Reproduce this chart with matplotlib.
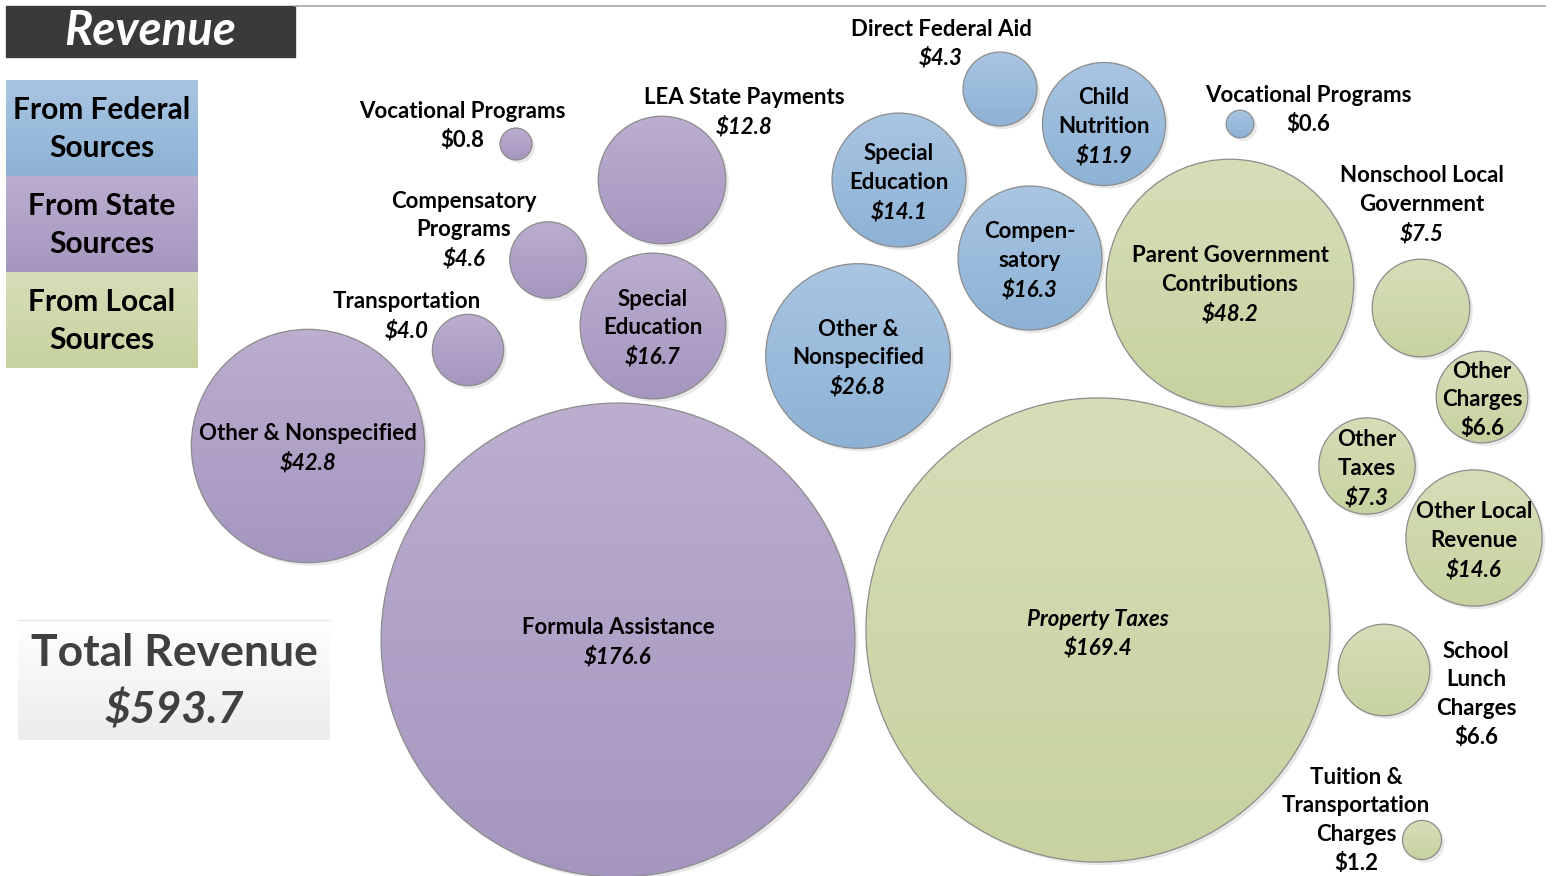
import numpy as np
import matplotlib
matplotlib.use('Agg')
from matplotlib import pyplot as plt
from matplotlib.patches import Circle, Rectangle
import matplotlib.colors as mcolors

plt.rcParams['font.family'] = ['Lato', 'DejaVu Sans']

# revenue items (millions)
names = ['Direct Federal Aid', 'Vocational Programs', 'LEA State Payments',
         'Compensatory\nPrograms', 'Transportation', 'Other & Nonspecified',
         'Special\nEducation', 'Formula Assistance', 'Special\nEducation',
         'Child\nNutrition', 'Vocational Programs', 'Compen-\nsatory',
         'Other &\nNonspecified', 'Parent Government\nContributions',
         'Nonschool Local\nGovernment', 'Other\nCharges', 'Other\nTaxes',
         'Other Local\nRevenue', 'Property Taxes', 'School\nLunch\nCharges',
         'Tuition &\nTransportation\nCharges']
values = [4.3, 0.8, 12.8, 4.6, 4.0, 42.8, 16.7, 176.6, 14.1, 11.9, 0.6, 16.3,
          26.8, 48.2, 7.5, 6.6, 7.3, 14.6, 169.4, 6.6, 1.2]
source = ['fed', 'state', 'state', 'state', 'state', 'state', 'state', 'state',
          'fed', 'fed', 'fed', 'fed', 'fed', 'local', 'local', 'local', 'local',
          'local', 'local', 'local', 'local']
total = 593.7

# layout (pixels): bubble centres and label anchors
cx = [1000, 516, 662, 548, 468, 308, 653, 618, 899, 1104, 1240, 1030, 858,
      1230, 1421, 1482, 1367, 1474, 1098, 1384, 1422]
cy = [89, 144, 180, 260, 350, 446, 326, 640, 180, 124, 124, 258, 356,
      283, 308, 397, 466, 538, 630, 670, 840]
lx = [941, 462, 744, 464, 407, 308, 653, 618, 899, 1104, 1308, 1030, 858,
      1230, 1422, 1482, 1367, 1474, 1098, 1476, 1356]
ly = [29, 112, 98, 201, 302, 434, 299, 628, 154, 98, 96, 232, 329,
      256, 176, 371, 440, 512, 619, 651, 777]
val_italic = [True, False, True, True, True, True, True, True, True, True, False,
              True, True, True, True, False, True, True, True, False, False]
name_italic = [n == 'Property Taxes' for n in names]

colors = {'fed': ('#a9c5e2', '#8db2d5'),
          'state': ('#bbaecf', '#a596bf'),
          'local': ('#d6deb8', '#c7d2a0')}
k = 17.83  # px per sqrt(value)
step = 28.8  # line step in px

W, H = 1552, 876
fig = plt.figure(figsize=(W / 100, H / 100), dpi=100)
ax = fig.add_axes([0, 0, 1, 1])
ax.axis('off')

grad = np.linspace(0, 1, 256).reshape(-1, 1)

for i in range(len(values)):
    r = k * np.sqrt(values[i])
    x, y = cx[i], cy[i]
    ax.add_patch(Circle((x + 3, y + 3), r, color='#d0d0d0', alpha=0.5, lw=0, zorder=1))
    cmap = mcolors.LinearSegmentedColormap.from_list('c', colors[source[i]])
    im = ax.imshow(grad, cmap=cmap, extent=(x - r, x + r, y + r, y - r),
                   origin='upper', aspect='auto', zorder=2)
    c = Circle((x, y), r, fc='none', ec='#8c8c8c', lw=0.9, zorder=3)
    ax.add_patch(c)
    im.set_clip_path(c)

    lines = names[i].split('\n')
    for j, line in enumerate(lines):
        ax.text(lx[i], ly[i] + step * j, line, ha='center', va='center',
                fontsize=16, fontweight='bold',
                style='italic' if name_italic[i] else 'normal', zorder=5)
    ax.text(lx[i], ly[i] + step * len(lines), '$%.1f' % values[i], ha='center',
            va='center', fontsize=16, fontweight='bold',
            style='italic' if val_italic[i] else 'normal', zorder=5)

# title bar
ax.add_patch(Rectangle((6, 6), 289, 51, color='#3a3a3a', zorder=4))
ax.text(150, 31, 'Revenue', color='white', fontsize=34, fontweight='bold',
        style='italic', ha='center', va='center', zorder=5)
ax.plot([295, 1545], [6, 6], color='#a6a6a6', lw=1.2, zorder=4)

# legend blocks
leg = [('From Federal', 'Sources', 'fed'), ('From State', 'Sources', 'state'),
       ('From Local', 'Sources', 'local')]
for j, (t1, t2, key) in enumerate(leg):
    y0 = 80 + 96 * j
    cmap = mcolors.LinearSegmentedColormap.from_list('c', colors[key])
    ax.imshow(grad, cmap=cmap, extent=(6, 198, y0 + 96, y0), origin='upper',
              aspect='auto', zorder=2)
    ax.text(102, y0 + 30, t1, ha='center', va='center', fontsize=21.5,
            fontweight='bold', zorder=5)
    ax.text(102, y0 + 68, t2, ha='center', va='center', fontsize=21.5,
            fontweight='bold', zorder=5)

# total box
tcmap = mcolors.LinearSegmentedColormap.from_list('t', ['#ffffff', '#ececec'])
ax.imshow(grad, cmap=tcmap, extent=(18, 330, 740, 620), origin='upper',
          aspect='auto', zorder=2)
ax.plot([18, 330], [620, 620], color='#e6e6e6', lw=1, zorder=3)
ax.text(174, 653, 'Total Revenue', color='#404040', fontsize=32,
        fontweight='bold', ha='center', va='center', zorder=5)
ax.text(174, 710, '$%.1f' % total, color='#404040', fontsize=32,
        fontweight='bold', style='italic', ha='center', va='center', zorder=5)

ax.set_xlim(0, W)
ax.set_ylim(H, 0)
fig.savefig('out.png', dpi=100)
